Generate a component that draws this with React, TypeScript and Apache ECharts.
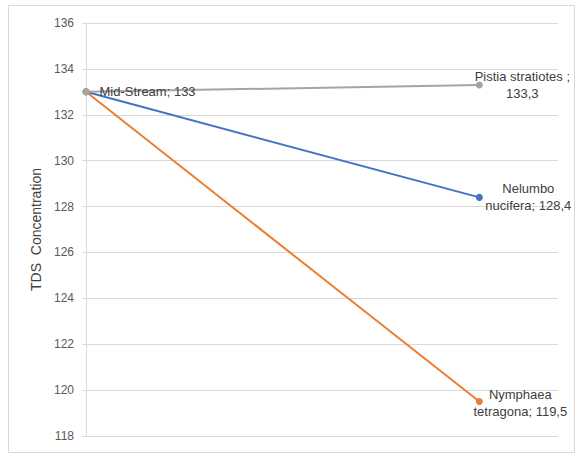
import React, { useEffect, useRef } from "react";
import * as echarts from "echarts";

const xPositions = [0, 1];
const seriesNames = ["Nelumbo nucifera", "Nymphaea tetragona", "Pistia stratiotes"];
const startValue = 133;
const endValues = [128.4, 119.5, 133.3];
const endLabelNames = ["Nelumbo\nnucifera", "Nymphaea\ntetragona", "Pistia stratiotes "];
const startLabelName = "Mid-Stream";
const colors = ["#4472C4", "#ED7D31", "#A5A5A5"];
const yTicks = { min: 118, max: 136, interval: 2 };
const yTitle = "TDS  Concentration";
const labelOffsets = [[49, 0], [41, 1], [43, 0]];

const fmt = (v: number) => String(v).replace(".", ",");

export default function App() {
  const ref = useRef<HTMLDivElement>(null);
  useEffect(() => {
    if (!ref.current) return;
    const chart = echarts.init(ref.current, null, { renderer: "svg" });
    const font = "Liberation Sans";
    const series = seriesNames.map((name, i) => {
      const isGrey = i === 2;
      const endName = endLabelNames[i];
      const endText = isGrey
        ? endName + ";\n" + fmt(endValues[i])
        : endName + "; " + fmt(endValues[i]);
      return {
        type: "line",
        name,
        symbol: "circle",
        symbolSize: 7,
        lineStyle: { color: colors[i], width: 2 },
        itemStyle: { color: colors[i] },
        z: 2 + i,
        data: [
          {
            value: [xPositions[0], startValue],
            label: isGrey
              ? {
                  show: true,
                  position: "right",
                  distance: 10,
                  formatter: startLabelName + "; " + fmt(startValue),
                  color: "#404040",
                  fontSize: 13,
                  fontFamily: font,
                }
              : { show: false },
          },
          {
            value: [xPositions[1], endValues[i]],
            label: {
              show: true,
              position: "inside",
              offset: labelOffsets[i],
              align: "center",
              verticalAlign: "middle",
              formatter: endText,
              color: "#404040",
              fontSize: 13,
              lineHeight: 17,
              fontFamily: font,
            },
          },
        ],
      };
    });
    chart.setOption({
      animation: false,
      textStyle: { fontFamily: font },
      graphic: [
        {
          type: "rect",
          shape: { x: 8.5, y: 5.5, width: 566, height: 447 },
          style: { fill: "none", stroke: "#d9d9d9", lineWidth: 1 },
          silent: true,
        },
      ],
      grid: { left: 86, top: 23, right: 20, bottom: 20, containLabel: false },
      xAxis: {
        type: "value",
        min: 0,
        max: 1.2,
        axisLine: { show: false },
        axisTick: { show: false },
        axisLabel: { show: false },
        splitLine: { show: false },
      },
      yAxis: {
        type: "value",
        min: yTicks.min,
        max: yTicks.max,
        interval: yTicks.interval,
        name: yTitle,
        nameLocation: "middle",
        nameGap: 41,
        nameTextStyle: { color: "#404040", fontSize: 14, fontFamily: font },
        axisLine: { show: true, lineStyle: { color: "#d9d9d9", width: 1 } },
        axisTick: { show: true, length: 4, lineStyle: { color: "#d9d9d9" } },
        axisLabel: { color: "#595959", fontSize: 12, margin: 12, fontFamily: font },
        splitLine: { show: true, lineStyle: { color: "#d9d9d9", width: 1 } },
      },
      series,
    });
    return () => chart.dispose();
  }, []);
  return (
    <div
      ref={ref}
      style={{ position: "fixed", left: 0, top: 0, width: 578, height: 456, background: "#fff" }}
    />
  );
}
